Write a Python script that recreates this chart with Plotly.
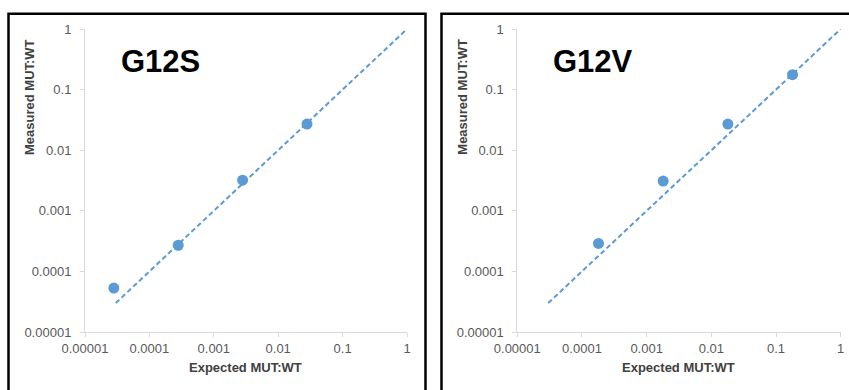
import plotly.graph_objects as go

W, H = 849, 390

# ---- data ----
expected_g12s = [2.8e-5, 2.8e-4, 2.8e-3, 2.8e-2]
measured_g12s = [5.3e-5, 2.7e-4, 3.2e-3, 2.7e-2]
expected_g12v = [1.8e-4, 1.8e-3, 1.8e-2, 0.18]
measured_g12v = [2.9e-4, 3.1e-3, 2.7e-2, 0.176]
fit_line = [3e-5, 1.0]
tick_vals = [1e-5, 1e-4, 1e-3, 1e-2, 1e-1, 1]
tick_text = ["0.00001", "0.0001", "0.001", "0.01", "0.1", "1"]
panel_titles = ["G12S", "G12V"]
x_title = "Expected MUT:WT"
y_title = "Measured MUT:WT"

BLUE = "#5b9bd5"
FONT = "Liberation Sans, Arial, sans-serif"

def px(x):
    return x / W

def py(y):
    return 1 - y / H

fig = go.Figure()

panels = [
    dict(xa="x", ya="y", ex=expected_g12s, me=measured_g12s),
    dict(xa="x2", ya="y2", ex=expected_g12v, me=measured_g12v),
]
for p in panels:
    fig.add_trace(go.Scatter(x=fit_line, y=fit_line, mode="lines",
                             line=dict(color=BLUE, width=2, dash="5px,3px"),
                             xaxis=p["xa"], yaxis=p["ya"], showlegend=False,
                             hoverinfo="skip"))
    fig.add_trace(go.Scatter(x=p["ex"], y=p["me"], mode="markers",
                             marker=dict(color=BLUE, size=11),
                             xaxis=p["xa"], yaxis=p["ya"], showlegend=False))

axis_common = dict(type="log", range=[-5, 0], showgrid=False, zeroline=False,
                   showline=True, linecolor="#d9d9d9", linewidth=1,
                   ticks="outside", ticklen=4, tickcolor="#d9d9d9",
                   automargin=False,
                   tickvals=tick_vals, ticktext=tick_text,
                   tickfont=dict(family=FONT, size=13, color="#595959"))

ydom = [py(332), py(29)]
fig.update_layout(
    width=W, height=H, margin=dict(l=0, r=0, t=0, b=0, autoexpand=False),
    paper_bgcolor="white", plot_bgcolor="white",
    xaxis=dict(domain=[px(85), px(407)], anchor="y", **axis_common),
    yaxis=dict(domain=ydom, anchor="x", ticklabelstandoff=6, **axis_common),
    xaxis2=dict(domain=[px(517.3), px(840.7)], anchor="y2", **axis_common),
    yaxis2=dict(domain=ydom, anchor="x2", ticklabelstandoff=6, **axis_common),
)

# panel borders
fig.add_shape(type="rect", xref="paper", yref="paper",
              x0=px(8.5), x1=px(425.5), y0=py(400), y1=py(13.8),
              line=dict(color="black", width=2.5), layer="above")
fig.add_shape(type="rect", xref="paper", yref="paper",
              x0=px(441.5), x1=px(860), y0=py(400), y1=py(13.8),
              line=dict(color="black", width=2.5), layer="above")

# titles
for txt, cx in zip(panel_titles, [160, 593]):
    fig.add_annotation(text=f"<b>{txt}</b>", xref="paper", yref="paper",
                       x=px(cx), y=py(62), xanchor="center", yanchor="middle",
                       showarrow=False,
                       font=dict(family=FONT, size=31, color="black"))

# axis titles
for cx in [245.5, 678]:
    fig.add_annotation(text=f"<b>{x_title}</b>", xref="paper", yref="paper",
                       x=px(cx), y=py(367), xanchor="center", yanchor="middle",
                       showarrow=False,
                       font=dict(family=FONT, size=13, color="#404040"))
for cx in [29, 461.7]:
    fig.add_annotation(text=f"<b>{y_title}</b>", xref="paper", yref="paper",
                       x=px(cx), y=py(97), xanchor="center", yanchor="middle",
                       textangle=-90, showarrow=False,
                       font=dict(family=FONT, size=13, color="#404040"))

fig.write_html("out.html")
